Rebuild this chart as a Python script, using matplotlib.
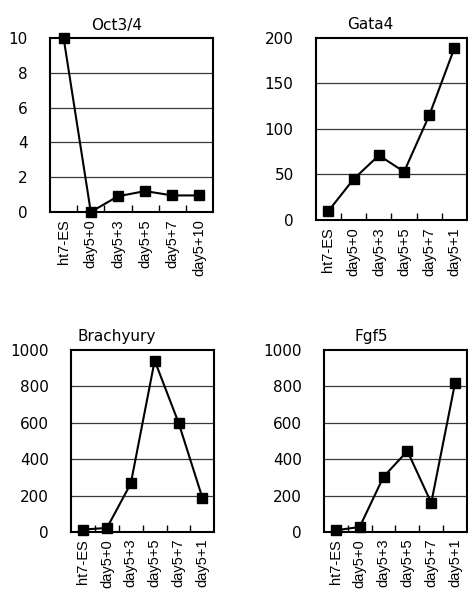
import matplotlib
matplotlib.use("Agg")
import matplotlib.pyplot as plt
from matplotlib.ticker import FixedLocator

plt.rcParams['font.family'] = ['DejaVu Sans']

labels_oct = ["ht7-ES", "day5+0", "day5+3", "day5+5", "day5+7", "day5+10"]
labels_other = ["ht7-ES", "day5+0", "day5+3", "day5+5", "day5+7", "day5+1"]

oct34 = [10, 0, 0.9, 1.2, 0.95, 0.95]
gata4 = [10, 45, 71, 53, 115, 189]
brachyury = [13, 22, 266, 941, 600, 187]
fgf5 = [9, 27, 303, 444, 160, 820]

panels = [
    # title, labels, values, y max, y step, axes rect, title x (axes fraction)
    ("Oct3/4", labels_oct, oct34, 10, 2, [0.107, 0.645, 0.348, 0.291], 0.41),
    ("Gata4", labels_other, gata4, 200, 50, [0.675, 0.6315, 0.323, 0.305], 0.36),
    ("Brachyury", labels_other, brachyury, 1000, 200, [0.152, 0.109, 0.306, 0.305], 0.32),
    ("Fgf5", labels_other, fgf5, 1000, 200, [0.692, 0.109, 0.306, 0.305], 0.33),
]

fig = plt.figure(figsize=(4.68, 5.97), dpi=100)

for title, labels, values, ymax, ystep, rect, tx in panels:
    ax = fig.add_axes(rect)
    x = list(range(len(values)))
    ax.plot(x, values, color="black", lw=1.5, marker="s", markersize=7.5,
            markerfacecolor="black", markeredgecolor="black", clip_on=False, zorder=3)
    ax.set_xlim(-0.5, len(values) - 0.5)
    ax.set_ylim(0, ymax)
    yt = list(range(0, ymax + 1, ystep))
    ax.set_yticks(yt)
    ax.set_yticklabels([str(v) for v in yt])
    ax.tick_params(axis="y", length=0, pad=16, labelsize=11)
    for v in yt[1:-1]:
        ax.axhline(v, color="#3a3a3a", lw=0.9, zorder=1)
    ax.set_xticks(x)
    ax.set_xticklabels(labels, rotation=90, fontsize=10.5, family="Liberation Sans")
    ax.tick_params(axis="x", which="major", length=0, pad=5)
    ax.xaxis.set_minor_locator(FixedLocator([i + 0.5 for i in range(len(values) - 1)]))
    ax.tick_params(axis="x", which="minor", direction="in", length=5, width=1, color="black")
    for s in ax.spines.values():
        s.set_linewidth(1.5)
    ax.text(tx, 1.03, title, transform=ax.transAxes, ha="center", va="bottom", fontsize=11)

fig.savefig("out.png", dpi=100)
